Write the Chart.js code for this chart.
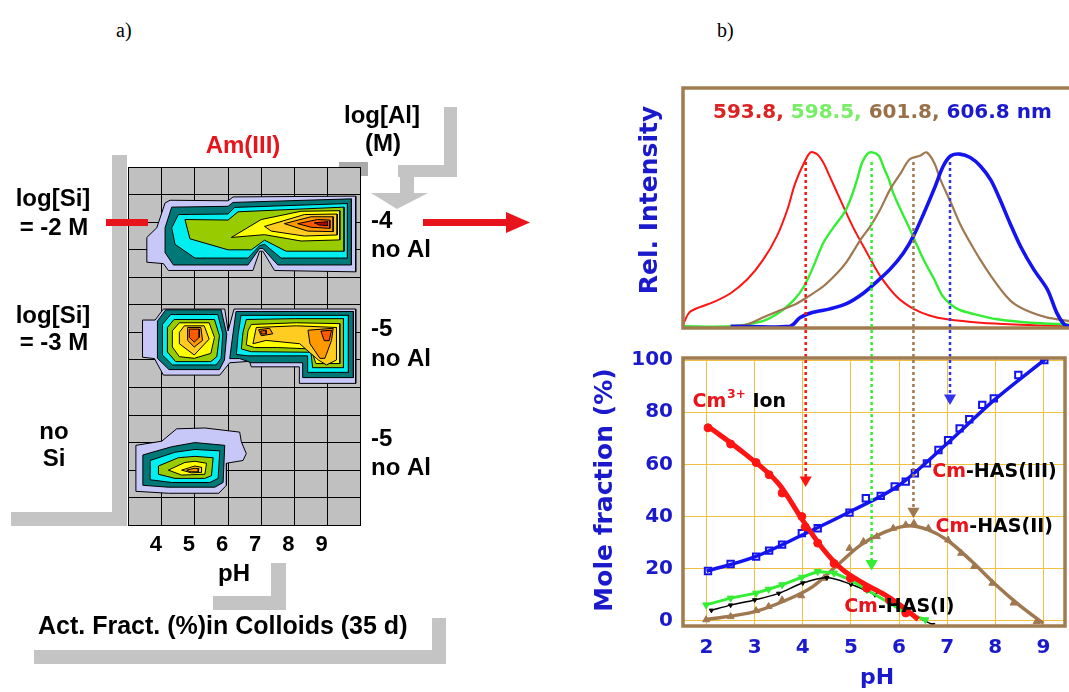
<!DOCTYPE html>
<html>
<head>
<meta charset="utf-8">
<script src="https://cdn.jsdelivr.net/npm/chart.js@4.4.1/dist/chart.umd.min.js"></script>
<style>
  html, body { margin: 0; padding: 0; background: #fff; overflow: hidden; width: 1069px; height: 692px; }
  canvas { position: absolute; top: 0; left: 0; }
  .panel-tag { position: absolute; top: 19px; font: 20px "Liberation Serif", serif; color: #000; }
</style>
</head>
<body>
<div class="panel-tag" style="left:116px">a)</div>
<div class="panel-tag" style="left:717px">b)</div>
<canvas id="contour" width="560" height="692"></canvas>
<canvas id="spectra" width="1072" height="692"></canvas>
<canvas id="fraction" width="1072" height="692"></canvas>
<script>
// ---------- panel a: Am(III) activity fraction in colloids, x = pH, y = grid row (0 = top)
const levelColors = ['#c8c8f8', '#007878', '#00eef0', '#99cc00', '#ffff00', '#ffcc22', '#ff9900', '#ff5a00', '#c00000'];
const phTicks = [4, 5, 6, 7, 8, 9];

// [level, outline]
const si2Contours = [
  [0, [[3.55,2.55],[3.85,2.2],[4.1,1.3],[4.25,1.2],[6.0,1.22],[6.15,1.08],[9.85,1.05],[9.85,3.8],[7.4,3.75],[7.05,3.05],[6.95,3.05],[6.75,3.75],[4.2,3.75],[4.05,3.5],[3.55,3.45]]],
  [1, [[4.1,2.2],[4.3,1.45],[6.0,1.42],[6.15,1.28],[9.72,1.15],[9.72,3.55],[7.5,3.55],[7.05,2.95],[6.95,2.95],[6.6,3.55],[4.35,3.55],[4.1,3.1]]],
  [2, [[4.3,2.2],[4.5,1.72],[6.0,1.7],[6.2,1.46],[9.6,1.32],[9.6,3.3],[7.6,3.3],[7.1,2.8],[6.95,2.85],[6.6,3.3],[5.0,3.3],[4.4,2.8]]],
  [3, [[4.7,1.9],[6.0,1.92],[6.3,1.62],[9.5,1.45],[9.5,3.05],[7.75,3.05],[7.1,2.65],[6.7,3.0],[6.0,3.0],[4.85,2.6]]],
  [4, [[6.1,2.55],[7.0,1.9],[8.2,1.6],[9.37,1.58],[9.37,2.64],[8.2,2.68],[7.1,2.45]]],
  [5, [[7.1,2.15],[8.3,1.72],[9.29,1.7],[9.29,2.46],[8.3,2.5],[7.3,2.32]]],
  [6, [[7.7,2.05],[8.5,1.8],[9.17,1.8],[9.17,2.34],[8.4,2.32]]],
  [7, [[8.1,2.05],[8.7,1.9],[9.07,1.92],[9.07,2.22],[8.5,2.18]]],
  [8, [[8.6,2.02],[9.0,1.98],[9.0,2.12],[8.75,2.1]]]
];

const si3Contours = [
  [0, [[3.42,5.55],[3.8,5.55],[4.05,5.15],[5.9,5.15],[6.0,5.95],[6.18,5.15],[9.85,5.15],[9.85,7.85],[8.15,7.85],[8.15,7.25],[6.7,7.25],[6.65,7.05],[6.05,7.1],[5.75,7.55],[4.05,7.55],[3.78,6.95],[3.42,6.9]]],
  // pH 5 maximum
  [1, [[4.12,5.18],[5.79,5.18],[5.96,6.06],[5.89,7.0],[5.74,7.35],[4.22,7.35],[3.87,6.94],[3.87,5.59]]],
  [2, [[4.27,5.35],[5.69,5.35],[5.84,6.06],[5.79,6.94],[5.64,7.18],[4.32,7.18],[4.02,6.82],[4.02,5.71]]],
  [3, [[4.37,5.53],[5.59,5.53],[5.74,6.12],[5.66,6.88],[5.48,7.06],[4.42,7.06],[4.17,6.71],[4.17,5.82]]],
  [4, [[4.53,5.65],[5.43,5.65],[5.59,6.18],[5.48,6.76],[4.98,6.94],[4.53,6.88],[4.32,6.53],[4.32,5.94]]],
  [5, [[4.68,5.76],[5.28,5.76],[5.43,6.24],[4.98,6.82],[4.53,6.41],[4.53,6.0]]],
  [6, [[4.78,5.82],[5.18,5.82],[5.23,6.29],[4.98,6.53],[4.78,6.29]]],
  [7, [[4.83,5.88],[5.13,5.88],[5.13,6.18],[4.98,6.35],[4.83,6.18]]],
  // pH 7 and pH 9 maxima
  [1, [[6.24,5.24],[9.78,5.24],[9.78,7.64],[8.25,7.64],[8.25,7.1],[6.7,7.1],[6.35,6.95],[6.05,6.95],[6.12,6.3]]],
  [2, [[6.39,5.38],[9.63,5.38],[9.63,7.45],[8.4,7.45],[8.4,6.85],[6.6,6.85],[6.25,6.8],[6.3,6.1]]],
  [3, [[6.55,5.53],[8.0,5.5],[9.48,5.5],[9.48,7.28],[8.55,7.28],[8.5,6.72],[6.7,6.7],[6.4,6.6],[6.45,6.0]]],
  [4, [[6.7,5.71],[8.06,5.65],[9.37,5.68],[9.37,7.13],[8.65,7.13],[8.5,6.6],[7.5,6.55],[6.8,6.55],[6.55,6.45],[6.6,5.95]]],
  [5, [[6.85,5.82],[8.06,5.76],[9.27,5.82],[9.27,7.0],[8.97,7.18],[8.72,7.0],[8.16,6.41],[7.15,6.29],[6.75,6.41]]],
  [6, [[6.92,5.9],[7.25,5.85],[7.35,6.05],[7.0,6.12]]],
  [6, [[8.41,5.92],[9.17,5.85],[9.12,6.29],[8.92,6.94],[8.77,6.94],[8.47,6.41]]],
  [7, [[6.98,5.95],[7.15,5.93],[7.15,6.05],[7.0,6.06]]],
  [7, [[8.8,5.95],[9.12,5.92],[9.05,6.3],[8.9,6.3]]]
];

const noSiContours = [
  [0, [[3.22,10.1],[4.0,9.95],[4.45,9.5],[5.3,9.47],[6.35,9.62],[6.4,9.97],[6.55,10.4],[6.45,10.65],[5.95,10.75],[5.95,11.55],[5.72,11.84],[4.2,11.84],[3.22,11.77]]],
  [1, [[3.43,10.45],[4.3,10.15],[5.0,10.0],[5.9,10.1],[5.85,11.45],[5.6,11.62],[4.2,11.62],[3.43,11.55]]],
  [2, [[3.65,10.65],[4.4,10.35],[5.0,10.25],[5.75,10.3],[5.7,11.3],[5.45,11.45],[4.3,11.45],[3.65,11.35]]],
  [3, [[3.9,10.85],[4.5,10.55],[5.0,10.5],[5.55,10.55],[5.5,11.2],[5.3,11.3],[4.4,11.3],[3.9,11.15]]],
  [4, [[4.2,11.0],[4.7,10.72],[5.0,10.68],[5.35,10.75],[5.3,11.15],[4.6,11.18]]],
  [5, [[4.6,11.0],[5.0,10.85],[5.2,10.9],[5.2,11.08],[4.9,11.1]]],
  [6, [[4.75,11.0],[5.0,10.93],[5.12,10.95],[5.1,11.06],[4.85,11.06]]]
];

// ---------- panel b, top: normalised emission spectra [nm, rel. intensity]
const spec5938 = [[585.0,0.01],[585.5,0.08],[586.3,0.11],[587.4,0.14],[588.7,0.19],[590.0,0.27],[591.2,0.38],[592.3,0.52],[593.1,0.67],[593.7,0.82],[594.4,0.94],[594.9,1.00],[595.4,0.99],[595.9,0.94],[596.4,0.86],[597.2,0.73],[598.2,0.57],[599.3,0.42],[600.3,0.29],[601.6,0.17],[602.9,0.10],[604.2,0.06],[605.5,0.04],[608.1,0.02],[610.7,0.01],[615.0,0.00]];
const spec5985 = [[585.0,0.00],[588.7,0.00],[591.2,0.03],[592.5,0.08],[593.6,0.15],[594.4,0.23],[595.1,0.34],[595.9,0.48],[596.7,0.57],[597.5,0.65],[598.0,0.73],[598.5,0.84],[598.9,0.94],[599.3,0.99],[599.7,1.00],[600.2,0.98],[600.6,0.91],[601.0,0.84],[601.3,0.77],[601.9,0.67],[602.6,0.56],[603.2,0.46],[603.7,0.38],[604.5,0.27],[605.2,0.17],[606.3,0.10],[607.6,0.07],[609.4,0.04],[612.0,0.02],[615.0,0.01]];
const spec6018 = [[588.7,0.00],[589.9,0.01],[591.2,0.05],[592.5,0.09],[593.8,0.13],[594.7,0.17],[595.9,0.23],[596.9,0.30],[597.7,0.37],[598.8,0.50],[599.5,0.57],[600.3,0.67],[601.1,0.79],[601.9,0.88],[602.6,0.96],[603.4,0.98],[603.9,1.00],[604.5,0.94],[605.0,0.84],[605.8,0.71],[606.5,0.59],[607.3,0.48],[608.1,0.38],[608.9,0.29],[609.9,0.19],[610.7,0.13],[612.0,0.08],[613.3,0.05],[615.0,0.03]];
const spec6068 = [[588.7,0.00],[593.3,0.00],[594.1,0.05],[595.1,0.08],[596.4,0.10],[597.7,0.13],[599.0,0.19],[600.1,0.26],[601.1,0.33],[602.1,0.42],[602.9,0.52],[603.7,0.65],[604.5,0.79],[605.2,0.92],[605.8,0.98],[606.5,0.99],[607.3,0.97],[608.1,0.92],[608.9,0.84],[609.6,0.73],[610.4,0.59],[611.2,0.46],[612.2,0.33],[613.3,0.21],[614.0,0.08],[614.6,0.01],[615.0,0.00]];

// ---------- panel b, bottom: mole fractions (%) vs pH
const ionPts = [[2.03,74],[2.5,67.8],[3.03,60.7],[3.3,56],[3.57,49],[3.98,40],[4.05,36],[4.31,29.8],[4.65,22],[4.99,16.3],[5.33,12.5],[5.8,8],[6.14,3]];
const ionFit = [[2.0,75],[2.8,64],[3.5,52.5],[4.0,38.5],[4.4,28],[4.8,20],[5.25,14.5],[5.7,10],[6.1,5],[6.4,0.5]];
const has3Pts = [[2.03,19.1],[2.5,21.8],[3.03,24.6],[3.3,26.9],[3.57,29.2],[3.98,33.6],[4.31,35.5],[4.97,41.5],[5.31,47],[5.62,47.9],[5.91,51.5],[6.14,53.4],[6.33,56.6],[6.58,60.4],[6.82,65.5],[7.02,69.3],[7.26,73.8],[7.46,77.3],[7.73,82.8],[7.97,85.3],[8.48,94.3],[9.02,100]];
const has3Fit = [[2.0,19],[3.0,24.5],[4.0,33],[5.0,42],[6.0,52],[7.0,68],[8.0,85],[9.05,100.5]];
const has2Pts = [[1.99,0.4],[2.5,1.6],[3.03,3.9],[3.29,5.5],[3.57,8],[3.97,9.6],[4.44,16.3],[4.71,21.5],[4.97,27.8],[5.26,30.4],[5.54,32.3],[5.88,35.5],[6.14,36.8],[6.31,37.4],[6.61,35.5],[7.02,31],[7.29,25.9],[7.56,20.8],[7.94,14.4],[8.38,6.8],[8.86,-0.3]];
const has2Fit = [[2.0,0.5],[3.0,3.5],[3.6,7.5],[4.2,13],[4.7,21],[5.2,29],[5.7,34],[6.2,36.5],[6.6,35],[7.0,31],[7.5,23],[8.0,14],[8.5,6],[9.0,-1]];
const has1Pts = [[1.99,6.1],[2.5,8.7],[3.03,10.6],[3.29,12.1],[3.57,13.8],[3.98,16.7],[4.31,18.9],[4.65,18.3],[4.99,15.7],[5.33,11.9],[5.8,6.8],[6.14,3],[6.55,0.4]];
const has1Fit = [[2.1,4],[2.5,6],[3.0,8],[3.5,10.5],[4.0,14.5],[4.5,16.5],[5.0,14],[5.5,10],[6.0,5],[6.7,-1.5]];

// peak positions carried down from the spectra (pH, arrow head value)
const arrowPH = [4.06, 5.43, 6.30, 7.06];
const arrowHead = [54, 22, 42, 85.5];
const arrowStart = 176;

const RED = '#ff1414', GREEN = '#33ee33', BROWN = '#a07850', BLUE = '#1414f0';
const TEXT_BLUE = '#1a1acc', TEXT_RED = '#e8141c';

const xy = pts => pts.map(([x, y]) => ({ x, y }));
const closed = pts => xy(pts.concat([pts[0]]));

// ---------- panel a chart
function contourSets(list) {
  return list.map(([level, pts]) => ({
    data: closed(pts),
    showLine: true,
    fill: 'shape',
    backgroundColor: levelColors[level],
    borderColor: '#000',
    borderWidth: 1,
    pointRadius: 0,
    tension: 0,
    order: -level
  }));
}

const panelADecor = {
  id: 'panelADecor',
  beforeDraw(chart) {
    const ctx = chart.ctx;
    ctx.save();
    // grey frames left over from the slide
    ctx.fillStyle = '#c4c4c4';
    [[112,155,15,370],[11,512,116,14],[444,107,13,70],[398,165,59,12],[400,177,14,16],
     [271,563,15,47],[213,596,73,14],[432,618,14,46],[34,650,412,14]].forEach(r => ctx.fillRect(...r));
    ctx.beginPath();
    ctx.moveTo(371, 193); ctx.lineTo(428, 193); ctx.lineTo(397, 209);
    ctx.closePath(); ctx.fill();
    ctx.fillStyle = '#aaaaaa';
    ctx.fillRect(339, 162, 29, 14);
    // grey plot background
    const a = chart.chartArea;
    ctx.fillStyle = '#c0c0c0';
    ctx.fillRect(a.left, a.top, a.right - a.left, a.bottom - a.top);
    ctx.restore();
  }
};

const panelAText = {
  id: 'panelAText',
  afterDraw(chart) {
    const ctx = chart.ctx;
    ctx.save();
    ctx.textBaseline = 'middle';
    ctx.font = 'bold 24px "Liberation Sans"';
    ctx.textAlign = 'center';
    ctx.fillStyle = TEXT_RED;
    ctx.fillText('Am(III)', 243, 146);
    ctx.fillStyle = '#000';
    [['log[Al]', 382, 116], ['(M)', 383, 144],
     ['log[Si]', 53, 199], ['= -2 M', 54, 228],
     ['log[Si]', 53, 316], ['= -3 M', 54, 343],
     ['no', 54, 432], ['Si', 54, 459], ['pH', 234, 574]].forEach(([t, x, y]) => ctx.fillText(t, x, y));
    ctx.textAlign = 'left';
    [['-4', 371, 221], ['no Al', 371, 250], ['-5', 371, 329], ['no Al', 371, 359],
     ['-5', 371, 439], ['no Al', 371, 468]].forEach(([t, x, y]) => ctx.fillText(t, x, y));
    ctx.font = 'bold 25px "Liberation Sans"';
    ctx.fillText('Act. Fract. (%)in Colloids (35 d)', 38, 627);
    // red markers
    ctx.fillStyle = TEXT_RED;
    ctx.fillRect(106, 219, 42, 7);
    ctx.fillRect(423, 219, 86, 7);
    ctx.beginPath();
    ctx.moveTo(506, 212); ctx.lineTo(530, 222.5); ctx.lineTo(506, 233);
    ctx.closePath(); ctx.fill();
    ctx.restore();
  }
};

new Chart(document.getElementById('contour'), {
  type: 'scatter',
  data: { datasets: [...contourSets(si2Contours), ...contourSets(si3Contours), ...contourSets(noSiContours)] },
  options: {
    responsive: false,
    animation: false,
    devicePixelRatio: 1,
    layout: { padding: { left: 128.6, top: 167.2, right: 199.3, bottom: 136.8 } },
    plugins: { legend: { display: false }, tooltip: { enabled: false } },
    scales: {
      x: {
        type: 'linear', min: 3, max: 10, z: 1,
        afterFit: s => { s.height = 30; },
        afterBuildTicks: s => { s.ticks = [3, ...phTicks, 10].map(v => ({ value: v })); },
        grid: { color: '#000', lineWidth: 1, drawTicks: false },
        border: { color: '#000' },
        ticks: {
          autoSkip: false, maxRotation: 0, padding: 7, labelOffset: -6, color: '#000',
          font: { family: 'Liberation Sans', size: 22, weight: 'bold' },
          callback: v => phTicks.includes(v) ? v : ''
        }
      },
      y: {
        type: 'linear', reverse: true, min: 0, max: 13, z: 1,
        afterFit: s => { s.width = 0; },
        ticks: { display: false, stepSize: 1 },
        grid: { color: '#000', lineWidth: 1, drawTicks: false },
        border: { color: '#000' }
      }
    }
  },
  plugins: [panelADecor, panelAText]
});

// ---------- panel b, top chart
const brownBox = {
  id: 'brownBox',
  afterDatasetsDraw(chart) {
    const a = chart.chartArea, ctx = chart.ctx;
    ctx.save();
    ctx.strokeStyle = '#a07c50';
    ctx.lineWidth = 3.5;
    ctx.strokeRect(a.left, a.top, a.right - a.left, a.bottom - a.top);
    ctx.restore();
  }
};

const spectraText = {
  id: 'spectraText',
  afterDraw(chart) {
    const ctx = chart.ctx;
    ctx.save();
    ctx.font = 'bold 20px "DejaVu Sans"';
    ctx.textBaseline = 'middle';
    let x = 713;
    [['593.8, ', '#dd2222'], ['598.5, ', '#77ee66'], ['601.8, ', '#9a7048'], ['606.8 nm', TEXT_BLUE]].forEach(([t, c]) => {
      ctx.fillStyle = c;
      ctx.fillText(t, x, 113);
      x += ctx.measureText(t).width;
    });
    ctx.translate(650, 200);
    ctx.rotate(-Math.PI / 2);
    ctx.textAlign = 'center';
    ctx.font = 'bold 25px "DejaVu Sans"';
    ctx.fillStyle = TEXT_BLUE;
    ctx.fillText('Rel. Intensity', 0, 0);
    ctx.restore();
  }
};

const specLine = (pts, color, width) => ({
  data: xy(pts), showLine: true, borderColor: color, borderWidth: width, pointRadius: 0, tension: 0.3
});

new Chart(document.getElementById('spectra'), {
  type: 'scatter',
  data: {
    datasets: [
      specLine(spec6068, BLUE, 3.6),
      specLine(spec6018, BROWN, 2.2),
      specLine(spec5985, GREEN, 2.4),
      specLine(spec5938, RED, 2)
    ]
  },
  options: {
    responsive: false,
    animation: false,
    devicePixelRatio: 1,
    layout: { padding: { left: 683, top: 88, right: 0, bottom: 364 } },
    plugins: { legend: { display: false }, tooltip: { enabled: false } },
    scales: {
      x: { type: 'linear', display: false, min: 585, max: 615.2 },
      y: { type: 'linear', display: false, min: -0.01, max: 1.37 }
    }
  },
  plugins: [brownBox, spectraText]
});

// ---------- panel b, bottom chart
const fractionText = {
  id: 'fractionText',
  afterDraw(chart) {
    const ctx = chart.ctx, sx = chart.scales.x, sy = chart.scales.y;
    ctx.save();
    ctx.textBaseline = 'middle';
    const species = [
      { x: 1.71, y: 84, sup: '3+', rest: ' Ion' },
      { x: 6.69, y: 57, rest: '-HAS(III)' },
      { x: 6.76, y: 36, rest: '-HAS(II)' },
      { x: 4.86, y: 5.4, rest: '-HAS(I)' }
    ];
    species.forEach(s => {
      let px = sx.getPixelForValue(s.x);
      const py = sy.getPixelForValue(s.y);
      ctx.font = 'bold 19px "DejaVu Sans"';
      ctx.fillStyle = TEXT_RED;
      ctx.fillText('Cm', px, py);
      px += ctx.measureText('Cm').width;
      if (s.sup) {
        ctx.font = 'bold 12px "DejaVu Sans"';
        ctx.fillText(s.sup, px + 1, py - 7);
        px += ctx.measureText(s.sup).width + 1;
      }
      ctx.font = 'bold 19px "DejaVu Sans"';
      ctx.fillStyle = '#000';
      ctx.fillText(s.rest, px, py);
    });
    ctx.fillStyle = TEXT_BLUE;
    ctx.textAlign = 'center';
    ctx.font = 'bold 22px "DejaVu Sans"';
    ctx.fillText('pH', 877, 678);
    ctx.translate(605, 490);
    ctx.rotate(-Math.PI / 2);
    ctx.font = 'bold 25px "DejaVu Sans"';
    ctx.fillText('Mole fraction (%)', 0, 0);
    ctx.restore();
  }
};

const fitLine = (pts, color, width) => ({
  data: xy(pts), showLine: true, borderColor: color, borderWidth: width,
  pointRadius: 0, cubicInterpolationMode: 'monotone', tension: 0.4
});
const markers = (pts, color, style, extra) => Object.assign({
  data: xy(pts), showLine: false, pointStyle: style, pointRadius: 4,
  pointBackgroundColor: color, pointBorderColor: color, pointBorderWidth: 1
}, extra || {});
const arrows = arrowPH.map((ph, i) => ({
  data: [{ x: ph, y: arrowStart }, { x: ph, y: arrowHead[i] }],
  showLine: true, clip: false,
  borderColor: [RED, GREEN, BROWN, '#3333ee'][i], borderWidth: 2.5, borderDash: [3, 3],
  pointRadius: [0, 7], pointStyle: 'triangle', rotation: 180,
  pointBackgroundColor: [RED, GREEN, BROWN, '#3333ee'][i], pointBorderWidth: 0
}));

new Chart(document.getElementById('fraction'), {
  type: 'scatter',
  data: {
    datasets: [
      ...arrows,
      fitLine(ionFit, RED, 5),
      markers(ionPts, RED, 'circle'),
      markers(has1Pts, GREEN, 'triangle', { rotation: 180, showLine: true, borderColor: GREEN, borderWidth: 3 }),
      fitLine(has1Fit, '#000', 1.5),
      markers(has1Fit, '#000', 'triangle', { rotation: 180, pointRadius: 2.5 }),
      fitLine(has3Fit, BLUE, 3.5),
      markers(has3Pts, '#fff', 'rect', { pointBorderColor: BLUE, pointBorderWidth: 2, pointRadius: 4.5 }),
      fitLine(has2Fit, BROWN, 3.5),
      markers(has2Pts, BROWN, 'triangle')
    ]
  },
  options: {
    responsive: false,
    animation: false,
    devicePixelRatio: 1,
    layout: { padding: { left: 623, top: 358, right: 0, bottom: 21 } },
    plugins: { legend: { display: false }, tooltip: { enabled: false } },
    scales: {
      x: {
        type: 'linear', min: 1.51, max: 9.45,
        afterFit: s => { s.height = 45; },
        afterBuildTicks: s => { s.ticks = [2, 3, 4, 5, 6, 7, 8, 9].map(v => ({ value: v })); },
        grid: { color: '#f2c040', lineWidth: 1, drawTicks: false },
        border: { display: false },
        ticks: { padding: 10, color: TEXT_BLUE, autoSkip: false, maxRotation: 0,
                 font: { family: 'DejaVu Sans', size: 20, weight: 'bold' } }
      },
      y: {
        type: 'linear', min: -2, max: 100.8,
        afterFit: s => { s.width = 60; },
        afterBuildTicks: s => { s.ticks = [0, 20, 40, 60, 80, 100].map(v => ({ value: v })); },
        grid: { color: '#f2c040', lineWidth: 1, drawTicks: false },
        border: { display: false },
        ticks: { padding: 10, color: TEXT_BLUE,
                 font: { family: 'DejaVu Sans', size: 20, weight: 'bold' } }
      }
    }
  },
  plugins: [brownBox, fractionText]
});
</script>
</body>
</html>
